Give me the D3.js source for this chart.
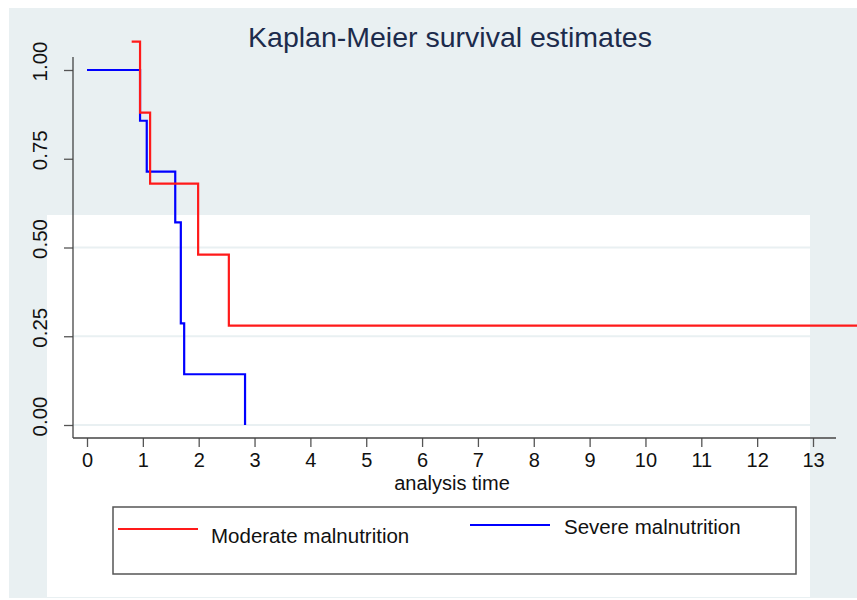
<!DOCTYPE html>
<html>
<head>
<meta charset="utf-8">
<script src="https://cdn.jsdelivr.net/npm/d3@7"></script>
<style>
  body { margin: 0; background: #fff; }
  svg { display: block; font-family: "Liberation Sans", Arial, sans-serif; }
</style>
</head>
<body>
<svg id="chart" width="857" height="600"></svg>
<script>
// datos
var titleText = "Kaplan-Meier survival estimates";
var xLabel = "analysis time";
var xTicks = [0, 1, 2, 3, 4, 5, 6, 7, 8, 9, 10, 11, 12, 13];
var yTicks = [0, 0.25, 0.5, 0.75, 1];
var seriesNames = ["Moderate malnutrition", "Severe malnutrition"];

var moderateTime = [0.8, 0.95, 1.13, 1.99, 2.54, 13.79];
var moderateSurv = [1.08, 0.88, 0.68, 0.48, 0.28, 0.28];
var severeTime = [0, 0.95, 1.07, 1.58, 1.68, 1.74, 2.83];
var severeSurv = [1, 0.857, 0.714, 0.571, 0.286, 0.143, 0];

var svg = d3.select("#chart");

// escalas
var xScale = d3.scaleLinear().domain([0, 13]).range([87, 813]);
var yScale = d3.scaleLinear().domain([0, 1]).range([425, 70]);

var axisX = 73, axisY = 438;

// fondos
svg.append("rect").attr("x", 9).attr("y", 8).attr("width", 848).attr("height", 590).attr("fill", "#e9f0f2");
svg.append("rect").attr("x", 47).attr("y", 215).attr("width", 763).attr("height", 382).attr("fill", "#ffffff");

// lineas de rejilla
svg.selectAll(".grid").data(yTicks).enter().append("line")
    .attr("x1", axisX).attr("x2", 810)
    .attr("y1", d => yScale(d)).attr("y2", d => yScale(d))
    .attr("stroke", "#e9f0f2").attr("stroke-width", 2);

// titulo
svg.append("text").attr("x", 450).attr("y", 47).attr("text-anchor", "middle")
    .attr("font-size", 28.5).attr("fill", "#1c2b4c").text(titleText);

// eje x
var gx = svg.append("g").attr("transform", "translate(0," + axisY + ")")
    .call(d3.axisBottom(xScale).tickValues(xTicks).tickSize(9).tickSizeOuter(0).tickPadding(6));
gx.select(".domain").remove();
gx.selectAll(".tick line").attr("stroke", "#555").attr("stroke-width", 1.3);
gx.selectAll(".tick text").attr("font-size", 20).attr("fill", "#111").attr("font-family", "Liberation Sans, Arial, sans-serif");
svg.append("line").attr("x1", axisX).attr("x2", 836).attr("y1", axisY).attr("y2", axisY)
    .attr("stroke", "#444").attr("stroke-width", 1.3);

svg.append("text").attr("x", 452).attr("y", 490).attr("text-anchor", "middle")
    .attr("font-size", 20).attr("fill", "#111").text(xLabel);

// eje y
var gy = svg.append("g").attr("transform", "translate(" + axisX + ",0)")
    .call(d3.axisLeft(yScale).tickValues(yTicks).tickSize(9).tickSizeOuter(0).tickFormat(d3.format(".2f")));
gy.select(".domain").remove();
gy.selectAll(".tick line").attr("stroke", "#555").attr("stroke-width", 1.3);
gy.selectAll(".tick text")
    .attr("font-size", 20.5).attr("fill", "#111").attr("font-family", "Liberation Sans, Arial, sans-serif")
    .attr("text-anchor", "middle").attr("x", 0).attr("dy", null).attr("y", 0)
    .attr("transform", "translate(-31,-9) rotate(-90)")
    .attr("dominant-baseline", "middle");
svg.append("line").attr("x1", axisX).attr("x2", axisX).attr("y1", 57).attr("y2", axisY)
    .attr("stroke", "#444").attr("stroke-width", 1.3);

// curvas
var line = d3.line().x(d => xScale(d[0])).y(d => yScale(d[1])).curve(d3.curveStepAfter);
var severe = d3.zip(severeTime, severeSurv);
var moderate = d3.zip(moderateTime, moderateSurv);

svg.append("path").attr("d", line(severe)).attr("fill", "none")
    .attr("stroke", "#0000ff").attr("stroke-width", 2.2);
svg.append("path").attr("d", line(moderate)).attr("fill", "none")
    .attr("stroke", "#ff1a1a").attr("stroke-width", 2.2);

// leyenda
svg.append("rect").attr("x", 113).attr("y", 507).attr("width", 683).attr("height", 67)
    .attr("fill", "#fff").attr("stroke", "#555").attr("stroke-width", 1.5);
var legendItems = [
    { name: seriesNames[0], color: "#ff1a1a", x1: 118, x2: 198, ly: 529, tx: 211, ty: 543 },
    { name: seriesNames[1], color: "#0000ff", x1: 470, x2: 550, ly: 525, tx: 564, ty: 534 }
];
legendItems.forEach(function (it) {
    svg.append("line").attr("x1", it.x1).attr("x2", it.x2).attr("y1", it.ly).attr("y2", it.ly)
        .attr("stroke", it.color).attr("stroke-width", 2);
    svg.append("text").attr("x", it.tx).attr("y", it.ty).attr("font-size", 20.5)
        .attr("fill", "#111").text(it.name);
});
</script>
</body>
</html>
